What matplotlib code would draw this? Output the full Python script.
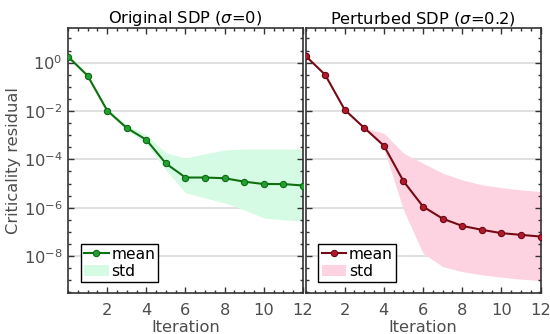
import numpy as np
import matplotlib
matplotlib.use("Agg")
import matplotlib.pyplot as plt
from matplotlib.ticker import FixedLocator, NullFormatter

# iterations
iters = np.arange(13)

# original SDP (sigma=0), log10 values
orig_mean = [0.25, -0.54, -1.98, -2.70, -3.19, -4.17, -4.75, -4.75, -4.78, -4.92, -5.02, -5.02, -5.08]
orig_hi = [0.32, -0.43, -1.87, -2.57, -2.99, -3.73, -3.94, -3.77, -3.61, -3.57, -3.57, -3.57, -3.57]
orig_lo = [0.19, -0.59, -2.04, -2.78, -3.36, -4.44, -5.38, -5.59, -5.80, -6.09, -6.42, -6.50, -6.54]

# perturbed SDP (sigma=0.2)
pert_mean = [0.28, -0.50, -1.95, -2.70, -3.43, -4.90, -5.95, -6.45, -6.75, -6.91, -7.05, -7.12, -7.19]
pert_hi = [0.30, -0.48, -1.93, -2.70, -2.92, -3.74, -4.16, -4.57, -4.85, -5.05, -5.17, -5.26, -5.33]
pert_lo = [0.26, -0.52, -1.97, -2.71, -3.54, -6.09, -7.88, -8.43, -8.64, -8.77, -8.87, -8.95, -9.01]

titles = ["Original SDP ($\\sigma$=0)", "Perturbed SDP ($\\sigma$=0.2)"]
yticks = [1e-8, 1e-6, 1e-4, 1e-2, 1e0]
xticks = [2, 4, 6, 8, 10, 12]

gray = "#4d4d4d"
fs = 11.7
plt.rcParams["font.family"] = "DejaVu Sans"

fig = plt.figure(figsize=(5.5, 3.34), dpi=100)
ax1 = fig.add_axes([0.1236, 0.1228, 0.4273, 0.7934])
ax2 = fig.add_axes([0.5555, 0.1228, 0.4273, 0.7934])

styles = [
    dict(line="#0f700f", face="#22a032", edge="#0b6a12", fill="#d6fbe4"),
    dict(line="#760a14", face="#b21a2c", edge="#6a0612", fill="#fdd3e2"),
]
data = [(orig_mean, orig_hi, orig_lo), (pert_mean, pert_hi, pert_lo)]

for ax, (m, hi, lo), st, title in zip([ax1, ax2], data, styles, titles):
    ax.set_yscale("log")
    for yt in yticks:
        ax.axhline(yt, color="#dddddd", lw=1.3, zorder=0)
    f = ax.fill_between(iters, 10.0 ** np.array(lo), 10.0 ** np.array(hi),
                        color=st["fill"], lw=0, zorder=1, label="std")
    l, = ax.plot(iters, 10.0 ** np.array(m), "-o", color=st["line"], lw=1.5,
                 ms=4.5, mfc=st["face"], mec=st["edge"], mew=0.8, zorder=3, label="mean")
    ax.set_xlim(0, 12)
    ax.set_ylim(3e-10, 2.7e1)
    ax.set_xticks(xticks)
    ax.xaxis.set_minor_locator(FixedLocator(np.arange(0, 12.01, 0.5)))
    ax.yaxis.set_major_locator(FixedLocator(yticks))
    ax.yaxis.set_minor_locator(FixedLocator(10.0 ** np.arange(-10, 2.01, 0.5)))
    ax.yaxis.set_minor_formatter(NullFormatter())
    ax.tick_params(which="both", direction="in", top=True, right=True,
                   color="#333333", labelcolor=gray, labelsize=fs, width=1)
    ax.tick_params(which="major", length=4, pad=4)
    ax.tick_params(axis="x", which="major", pad=7)
    ax.tick_params(which="minor", length=2.5)
    for sp in ax.spines.values():
        sp.set_color("#333333")
        sp.set_linewidth(1.2)
    ax.set_title(title, fontsize=fs, pad=3)
    ax.set_xlabel("Iteration", color=gray, fontsize=fs, labelpad=2)
    leg = ax.legend(handles=[l, f], loc="lower left", bbox_to_anchor=(0.055, 0.04),
                    fontsize=11.2, frameon=True, fancybox=False, framealpha=1,
                    edgecolor="black", handlelength=1.6, handletextpad=0.15,
                    borderpad=0.2, labelspacing=0.15, borderaxespad=0)
    leg.get_frame().set_linewidth(1.0)

ax1.set_ylabel("Criticality residual", color=gray, fontsize=fs, labelpad=2)
ax2.tick_params(which="both", labelleft=False)

fig.savefig("out.png", dpi=100)
